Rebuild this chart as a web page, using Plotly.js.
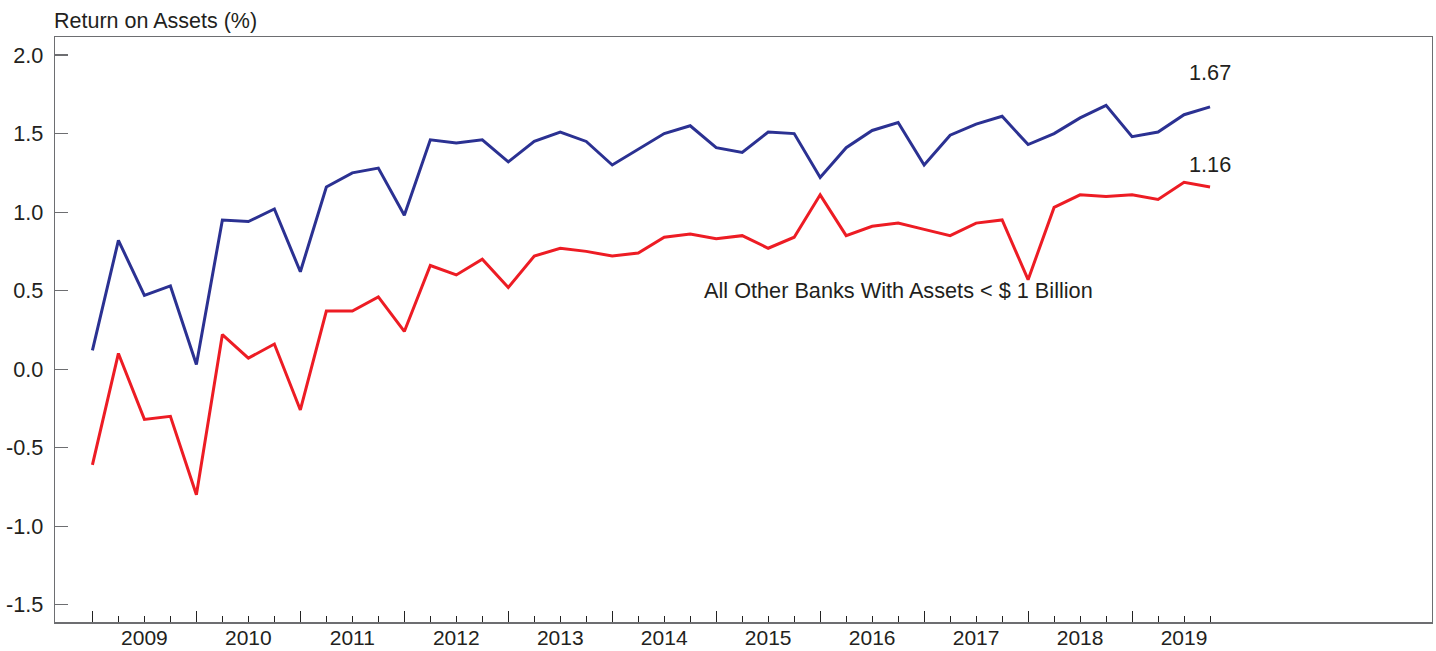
<!DOCTYPE html>
<html>
<head>
<meta charset="utf-8">
<script src="https://cdn.plot.ly/plotly-3.0.1.min.js"></script>
<style>html,body{margin:0;padding:0;background:#fff;}#chart{width:1436px;height:651px;}</style>
</head>
<body>
<div id="chart"></div>
<script>
// Quarterly data, 2008 Q4 through 2019 Q3
const quarters = [
  "2008Q4",
  "2009Q1","2009Q2","2009Q3","2009Q4",
  "2010Q1","2010Q2","2010Q3","2010Q4",
  "2011Q1","2011Q2","2011Q3","2011Q4",
  "2012Q1","2012Q2","2012Q3","2012Q4",
  "2013Q1","2013Q2","2013Q3","2013Q4",
  "2014Q1","2014Q2","2014Q3","2014Q4",
  "2015Q1","2015Q2","2015Q3","2015Q4",
  "2016Q1","2016Q2","2016Q3","2016Q4",
  "2017Q1","2017Q2","2017Q3","2017Q4",
  "2018Q1","2018Q2","2018Q3","2018Q4",
  "2019Q1","2019Q2","2019Q3"
];
const blueSeries = [
  0.12,
  0.82, 0.47, 0.53, 0.03,
  0.95, 0.94, 1.02, 0.62,
  1.16, 1.25, 1.28, 0.98,
  1.46, 1.44, 1.46, 1.32,
  1.45, 1.51, 1.45, 1.30,
  1.40, 1.50, 1.55, 1.41,
  1.38, 1.51, 1.50, 1.22,
  1.41, 1.52, 1.57, 1.30,
  1.49, 1.56, 1.61, 1.43,
  1.50, 1.60, 1.68, 1.48,
  1.51, 1.62, 1.67
];
const redSeries = [
  -0.61,
  0.10, -0.32, -0.30, -0.80,
  0.22, 0.07, 0.16, -0.26,
  0.37, 0.37, 0.46, 0.24,
  0.66, 0.60, 0.70, 0.52,
  0.72, 0.77, 0.75, 0.72,
  0.74, 0.84, 0.86, 0.83,
  0.85, 0.77, 0.84, 1.11,
  0.85, 0.91, 0.93, 0.89,
  0.85, 0.93, 0.95, 0.57,
  1.03, 1.11, 1.10, 1.11,
  1.08, 1.19, 1.16
];
const yearLabels = ["2009","2010","2011","2012","2013","2014","2015","2016","2017","2018","2019"];
const yTicks = [-1.5, -1.0, -0.5, 0.0, 0.5, 1.0, 1.5, 2.0];
const seriesLabel = "All Other Banks With Assets < $ 1 Billion";
const titleText = "Return on Assets (%)";

// position of each quarter: end-of-quarter time (2008Q4 -> 2009.0)
const xs = quarters.map(q => parseInt(q.slice(0,4)) + parseInt(q.slice(5)) / 4);
const years = yearLabels.map(Number);
const labelPos = years.map(y => y + 0.5);

const txtColor = '#231f20';
const axisColor = '#6d6e71';
const fontFam = 'Liberation Sans, Arial, Helvetica, sans-serif';
const fs = 21.7;

const lastIdx = xs.length - 1;

const data = [
  {x: xs, y: blueSeries, type: 'scatter', mode: 'lines',
   line: {color: '#2b3192', width: 3}, hoverinfo: 'skip'},
  {x: xs, y: redSeries, type: 'scatter', mode: 'lines',
   line: {color: '#ed1c24', width: 3}, hoverinfo: 'skip'},
  // carriers so that the overlay axes (year ticks, year labels) are drawn
  {x: xs, y: redSeries, xaxis: 'x2', type: 'scatter', mode: 'none', hoverinfo: 'skip'},
  {x: xs, y: redSeries, xaxis: 'x3', type: 'scatter', mode: 'none', hoverinfo: 'skip'}
];

const xRange = [2008.64, 2021.885];

const layout = {
  width: 1436, height: 651,
  margin: {l: 55, r: 4, t: 37, b: 29, pad: 0},
  paper_bgcolor: '#fff', plot_bgcolor: '#fff',
  showlegend: false,
  font: {family: fontFam, color: txtColor, size: fs},
  title: {text: titleText, x: 54/1436, xref: 'container', xanchor: 'left',
          y: 1 - 20/651, yref: 'container', yanchor: 'middle',
          font: {size: 21.5, color: txtColor, family: fontFam}},
  xaxis: {
    range: xRange, showgrid: false, zeroline: false,
    showline: true, linecolor: axisColor, linewidth: 1.5, mirror: true,
    tickmode: 'array', tickvals: xs, ticktext: xs.map(() => ''),
    ticks: 'inside', ticklen: 6, tickcolor: '#222', tickwidth: 1
  },
  xaxis2: {
    overlaying: 'x', anchor: 'y', side: 'bottom',
    range: xRange, showgrid: false, zeroline: false, showline: false,
    tickmode: 'array', tickvals: years, ticktext: years.map(() => ''),
    ticks: 'inside', ticklen: 11, tickcolor: '#222', tickwidth: 1
  },
  xaxis3: {
    overlaying: 'x', anchor: 'y', side: 'bottom',
    range: xRange, showgrid: false, zeroline: false, showline: false,
    tickmode: 'array', tickvals: labelPos, ticktext: yearLabels,
    ticks: '', ticklabelstandoff: 1,
    tickfont: {size: 21, color: txtColor, family: fontFam}
  },
  yaxis: {
    range: [-1.61, 2.115], showgrid: false, zeroline: false,
    showline: true, linecolor: axisColor, linewidth: 1.3, mirror: true,
    tickmode: 'array', tickvals: yTicks, ticktext: yTicks.map(v => v.toFixed(1)),
    ticks: 'inside', ticklen: 13, tickcolor: axisColor, tickwidth: 1.2,
    ticklabelstandoff: 6,
    tickfont: {size: fs, color: txtColor, family: fontFam}
  },
  annotations: [
    {x: xs[lastIdx], y: blueSeries[lastIdx], xref: 'x', yref: 'y',
     text: blueSeries[lastIdx].toFixed(2), showarrow: false, yshift: 34,
     font: {size: fs, color: txtColor, family: fontFam}},
    {x: xs[lastIdx], y: redSeries[lastIdx], xref: 'x', yref: 'y',
     text: redSeries[lastIdx].toFixed(2), showarrow: false, yshift: 22,
     font: {size: fs, color: txtColor, family: fontFam}},
    {x: 2016.755, y: 0.5, xref: 'x', yref: 'y', text: seriesLabel,
     showarrow: false, font: {size: fs, color: txtColor, family: fontFam}}
  ]
};

Plotly.newPlot('chart', data, layout, {displayModeBar: false, staticPlot: true});
</script>
</body>
</html>
